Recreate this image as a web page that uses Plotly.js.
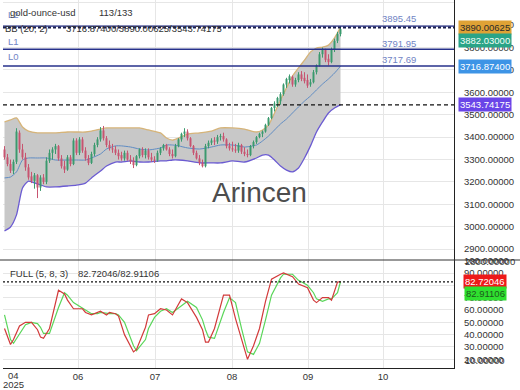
<!DOCTYPE html>
<html><head><meta charset="utf-8">
<script src="https://cdn.plot.ly/plotly-3.0.1.min.js"></script>
<style>html,body{margin:0;padding:0;background:#fff;}#chart{width:520px;height:390px;}</style>
</head><body><div id="chart"></div>
<script>
// ---- candles (one per trading session) ----
const OPEN  = [3345,3310,3280,3250,3290,3420,3345,3310,3265,3225,3205,3230,3175,3220,3200,3295,3330,3345,3360,3305,3270,3255,3310,3280,3385,3330,3390,3340,3305,3285,3325,3365,3390,3430,3395,3365,3350,3345,3330,3320,3305,3330,3300,3295,3275,3315,3345,3320,3340,3310,3300,3295,3330,3350,3365,3345,3325,3315,3360,3390,3415,3425,3395,3360,3330,3305,3285,3270,3360,3375,3385,3380,3400,3405,3390,3360,3350,3345,3340,3365,3335,3325,3320,3360,3378,3400,3415,3425,3455,3485,3530,3550,3560,3592,3635,3655,3670,3635,3655,3680,3665,3655,3635,3645,3690,3720,3770,3790,3750,3735,3790,3830,3860];
const HIGH  = [3360,3325,3300,3300,3440,3430,3370,3330,3280,3245,3240,3235,3230,3235,3310,3345,3355,3370,3365,3320,3295,3320,3320,3395,3395,3400,3400,3355,3320,3335,3375,3400,3445,3450,3405,3385,3370,3360,3345,3335,3340,3340,3320,3310,3320,3350,3355,3350,3350,3330,3315,3340,3355,3370,3370,3355,3345,3370,3395,3420,3440,3435,3400,3365,3340,3320,3300,3370,3385,3395,3400,3410,3415,3420,3395,3375,3380,3370,3375,3370,3355,3345,3365,3385,3405,3420,3430,3460,3490,3535,3560,3580,3600,3640,3665,3680,3675,3665,3690,3695,3690,3680,3660,3700,3725,3780,3800,3795,3770,3800,3840,3870,3895];
const LOW   = [3300,3270,3240,3235,3280,3330,3300,3250,3210,3195,3170,3128,3160,3190,3190,3285,3300,3325,3295,3260,3240,3250,3270,3275,3320,3320,3330,3295,3275,3280,3315,3355,3380,3385,3355,3340,3330,3320,3300,3295,3295,3295,3280,3262,3270,3305,3310,3305,3300,3290,3285,3290,3320,3340,3340,3315,3305,3310,3355,3380,3400,3385,3355,3320,3300,3275,3265,3265,3350,3365,3365,3370,3385,3380,3350,3340,3335,3330,3330,3325,3315,3310,3315,3350,3370,3395,3400,3420,3450,3480,3515,3535,3545,3585,3620,3640,3625,3625,3645,3650,3640,3620,3625,3640,3680,3715,3755,3735,3720,3730,3780,3820,3850];
const CLOSE = [3310,3280,3250,3290,3425,3345,3310,3265,3220,3205,3230,3175,3220,3200,3295,3330,3345,3360,3305,3270,3255,3310,3280,3385,3330,3390,3340,3305,3285,3325,3365,3390,3430,3395,3365,3350,3345,3330,3315,3305,3330,3300,3290,3275,3315,3345,3320,3340,3310,3300,3295,3330,3350,3365,3345,3325,3315,3360,3390,3415,3425,3395,3360,3330,3305,3285,3270,3360,3375,3385,3380,3400,3405,3390,3360,3350,3345,3340,3365,3335,3325,3320,3360,3378,3400,3415,3425,3455,3485,3530,3550,3575,3592,3635,3660,3672,3635,3655,3680,3660,3650,3630,3645,3690,3720,3770,3790,3745,3735,3790,3830,3860,3882.03];

// ---- Bollinger bands BB(20,2), read at sampled sessions ----
const bandIdx  = [0,2,4,6,8,11,14,17,21,24,27,29,32,34,37,39,42,45,48,52,54,56,58,61,65,69,72,76,80,84,86,88,90,92,94,96,98,100,102,104,106,108,110,112];
const bbUpper  = [3468,3477,3486,3445,3427,3419,3419,3419,3423,3423,3423,3427,3436,3441,3441,3441,3441,3441,3432,3419,3396,3387,3396,3414,3419,3427,3441,3441,3436,3423,3432,3454,3508,3566,3620,3673,3709,3744,3780,3798,3802,3811,3843,3890.00625];
const bbMiddle = [3218,3222,3245,3298,3307,3307,3307,3298,3298,3298,3298,3307,3325,3347,3361,3361,3356,3347,3343,3352,3365,3365,3361,3352,3347,3356,3365,3365,3356,3365,3383,3405,3432,3459,3481,3508,3535,3561,3584,3611,3637,3660,3686,3716.874];
const bbLower  = [2981,2999,3053,3173,3204,3191,3178,3178,3182,3186,3195,3218,3249,3271,3289,3289,3294,3289,3289,3294,3294,3298,3298,3294,3285,3285,3285,3294,3289,3307,3320,3320,3298,3271,3253,3245,3262,3307,3361,3423,3468,3508,3530,3543.74175];

// ---- Full stochastic (5,8,3) ----
const stochIdx = [0,2,3,5,7,9,11,12,13,15,18,20,21,23,26,27,29,31,32,34,35,37,38,40,43,44,47,48,50,52,54,56,59,61,64,66,67,68,70,73,75,77,79,81,83,85,87,89,92,93,96,98,101,103,104,106,108,109,111,112];
const stochK   = [45,32,36,47,50,50,44,38,37,45,76,73,68,61,61,58,56,58,59,56,58,57,55,40,26,28,46,56,57,61,60,56,69,66,54,44,34,34,45,72,72,53,37,20,31,45,67,85,89,90,87,81,78,68,66,70,70,68,82.7,82.72046];
const stochD   = [56,36,33,40,48,50,49,46,41,41,62,74,72,66,61,60,57,57,58,57,57,57,56,50,31,27,36,45,54,59,61,58,63,67,62,52,44,38,37,58,70,66,45,26,24,33,52,72,86,89,89,84,80,74,69,67,69,69,74,82.91106];

// ---- axes / labels ----
const monthTickPos = [24.5,50.17,75.83,101.17,126.17];
const monthLabels  = ['06','07','08','09','10'];
const priceTicks   = [2900,3000,3100,3200,3300,3400,3500,3600,3700,3800,3900,4000];
const oscTicks     = [20,30,40,50,60,70,80,90,100];
const levelNames   = ['L2','L1','L0'];
const levelValues  = [3895.45,3791.95,3717.69];
const bbLast       = [3716.874,3890.00625,3543.74175]; // middle/upper/lower
const lastClose    = 3882.03;
const kLast = 82.72046, dLast = 82.91106;
const priceRange = [2851.6,4012.3];

const sessions = OPEN.map((_, i) => i);

// pixel helpers for text placement (plot area: x 3..454, y 0..368)
const PL = 3, PW = 451, PH = 368;
const px = x => (x - PL) / PW;
const py = y => (PH - y) / PH;
const FONT = 'Liberation Sans, Arial, sans-serif';

const traces = [
  {type:'scatter', mode:'lines', x: bandIdx, y: bbUpper, xaxis:'x', yaxis:'y',
   line:{color:'#d6b479', width:1.3, shape:'spline', smoothing:0.6}, hoverinfo:'skip'},
  {type:'scatter', mode:'lines', x: bandIdx, y: bbLower, xaxis:'x', yaxis:'y', fill:'tonexty',
   fillcolor:'#c8c8c8', line:{color:'#6b5bd2', width:1.3, shape:'spline', smoothing:0.6}, hoverinfo:'skip'},
  {type:'scatter', mode:'lines', x: bandIdx, y: bbMiddle, xaxis:'x', yaxis:'y',
   line:{color:'#5f8cc4', width:1, shape:'spline', smoothing:0.6}, hoverinfo:'skip'},
  {type:'candlestick', x: sessions, open: OPEN, high: HIGH, low: LOW, close: CLOSE, xaxis:'x', yaxis:'y3',
   increasing:{line:{color:'#3a9a6e', width:1}, fillcolor:'#3a9a6e'},
   decreasing:{line:{color:'#c85470', width:1}, fillcolor:'#c85470'},
   whiskerwidth:0, hoverinfo:'skip'},
  {type:'scatter', mode:'lines', x: stochIdx, y: stochD, xaxis:'x', yaxis:'y2',
   line:{color:'#5ad65a', width:1.2}, hoverinfo:'skip'},
  {type:'scatter', mode:'lines', x: stochIdx, y: stochK, xaxis:'x', yaxis:'y2',
   line:{color:'#d23a3a', width:1.2}, hoverinfo:'skip'}
];

const shapes = [
  {type:'line', xref:'paper', x0:0, x1:1, yref:'y', y0:levelValues[0], y1:levelValues[0], line:{color:'#27318b', width:1.3}},
  {type:'line', xref:'paper', x0:0, x1:1, yref:'y', y0:levelValues[1], y1:levelValues[1], line:{color:'#27318b', width:1.5}},
  {type:'line', xref:'paper', x0:0, x1:1, yref:'y', y0:levelValues[2], y1:levelValues[2], line:{color:'#27318b', width:1.5}},
  {type:'line', xref:'paper', x0:0, x1:1, yref:'y', y0:bbLast[1], y1:bbLast[1], line:{color:'#1a1f50', width:2, dash:'3px,2px'}},
  {type:'line', xref:'paper', x0:0, x1:1, yref:'y', y0:bbLast[2], y1:bbLast[2], line:{color:'#111', width:1.2, dash:'4px,3px'}},
  {type:'line', xref:'paper', x0:0, x1:1, yref:'y2', y0:kLast, y1:kLast, line:{color:'#111', width:1.2, dash:'2px,2px'}},
  {type:'line', xref:'paper', x0:px(0), x1:px(520), yref:'paper', y0:py(260), y1:py(260), line:{color:'#333', width:1}}
];

const ann = (text, x, y, o={}) => Object.assign({text, xref:'paper', yref:'paper', x:px(x), y:py(y),
  xanchor:'left', yanchor:'middle', showarrow:false, font:{family:FONT, size:9.5, color:'#333'}}, o);
const box = (text, yref, yval, bg, fg, shift) => ({text, xref:'paper', x:px(485), yref, y:yval, yshift:shift||0,
  xanchor:'center', yanchor:'middle', showarrow:false, bgcolor:bg, borderpad:1,
  font:{family:FONT, size:9.5, color:fg}});

const levelColor = '#7184c4';
const annotations = [
  ann(levelNames[0], 6, 14.5, {font:{family:FONT, size:9.5, color:levelColor}}),
  ann('gold-ounce-usd', 8, 13),
  ann('113/133', 97, 13),
  ann('BB (20, 2)', 3, 28),
  ann(bbLast.map(v => v.toFixed(5)).join('/'), 64, 28),
  ann(levelNames[1], 6, 41, {font:{family:FONT, size:9.5, color:levelColor}}),
  ann(levelNames[2], 6, 57, {font:{family:FONT, size:9.5, color:levelColor}}),
  ann(levelValues[0].toFixed(2), 380, 18, {font:{family:FONT, size:9.5, color:levelColor}}),
  ann(levelValues[1].toFixed(2), 380, 43, {font:{family:FONT, size:9.5, color:levelColor}}),
  ann(levelValues[2].toFixed(2), 380, 60, {font:{family:FONT, size:9.5, color:levelColor}}),
  ann('Arincen', 259.5, 193, {xanchor:'center', font:{family:FONT, size:28, color:'#4d4d4d'}}),
  ann('FULL (5, 8, 3)', 8, 273),
  ann(kLast.toFixed(5) + '/' + dLast.toFixed(5), 76, 273),
  ann('2800.00000', 463, 261),
  ann('10.00000', 463, 360),
  ann('04', 13, 375, {xanchor:'center'}),
  ann('2025', 13.5, 384, {xanchor:'center'}),
  box(bbLast[1].toFixed(5), 'y', bbLast[1], '#dfa235', '#2a2a2a'),
  box(lastClose.toFixed(5), 'y', lastClose, '#2aa487', '#f4fff8', -11.5),
  box(bbLast[0].toFixed(5), 'y', bbLast[0], '#3d94e6', '#ffffff'),
  box(bbLast[2].toFixed(5), 'y', bbLast[2], '#6a45e8', '#ffffff'),
  box(kLast.toFixed(5), 'y2', kLast, '#ee1a1a', '#ffffff'),
  box(dLast.toFixed(5), 'y2', dLast, '#2fe02f', '#1d5a1d', -12)
];

const axisFont = {family:FONT, size:9.5, color:'#333'};
const layout = {
  width:520, height:390,
  margin:{l:3, r:66, t:0, b:22, pad:0},
  paper_bgcolor:'#ffffff', plot_bgcolor:'#ffffff',
  showlegend:false, boxgap:0.55,
  font:{family:FONT, size:9.5, color:'#333'},
  xaxis:{type:'linear', range:[-0.5,149.83], anchor:'y2', tickmode:'array', tickvals:monthTickPos, ticktext:monthLabels,
    showgrid:true, gridcolor:'#e6e6e6', gridwidth:1, zeroline:false, showline:true, linecolor:'#222', linewidth:1,
    ticks:'', tickfont:axisFont, rangeslider:{visible:false}, automargin:false, fixedrange:true},
  yaxis:{domain:[py(260),1], side:'right', range:priceRange, tickmode:'array', tickvals:priceTicks, tickformat:'.5f',
    showgrid:true, gridcolor:'#e6e6e6', zeroline:false, showline:true, linecolor:'#222', linewidth:1,
    ticks:'outside', ticklen:7, tickcolor:'rgba(0,0,0,0)', tickfont:axisFont, automargin:false, fixedrange:true},
  yaxis3:{overlaying:'y', side:'right', range:priceRange, visible:false, showgrid:false, zeroline:false, fixedrange:true},
  yaxis2:{domain:[0,py(260)], side:'right', range:[12.95,100.54], tickmode:'array', tickvals:oscTicks, tickformat:'.5f',
    showgrid:true, gridcolor:'#e6e6e6', zeroline:false, showline:true, linecolor:'#222', linewidth:1,
    ticks:'outside', ticklen:7, tickcolor:'rgba(0,0,0,0)', tickfont:axisFont, automargin:false, fixedrange:true},
  shapes, annotations
};

Plotly.newPlot('chart', traces, layout, {staticPlot:true, displayModeBar:false});
</script></body></html>
